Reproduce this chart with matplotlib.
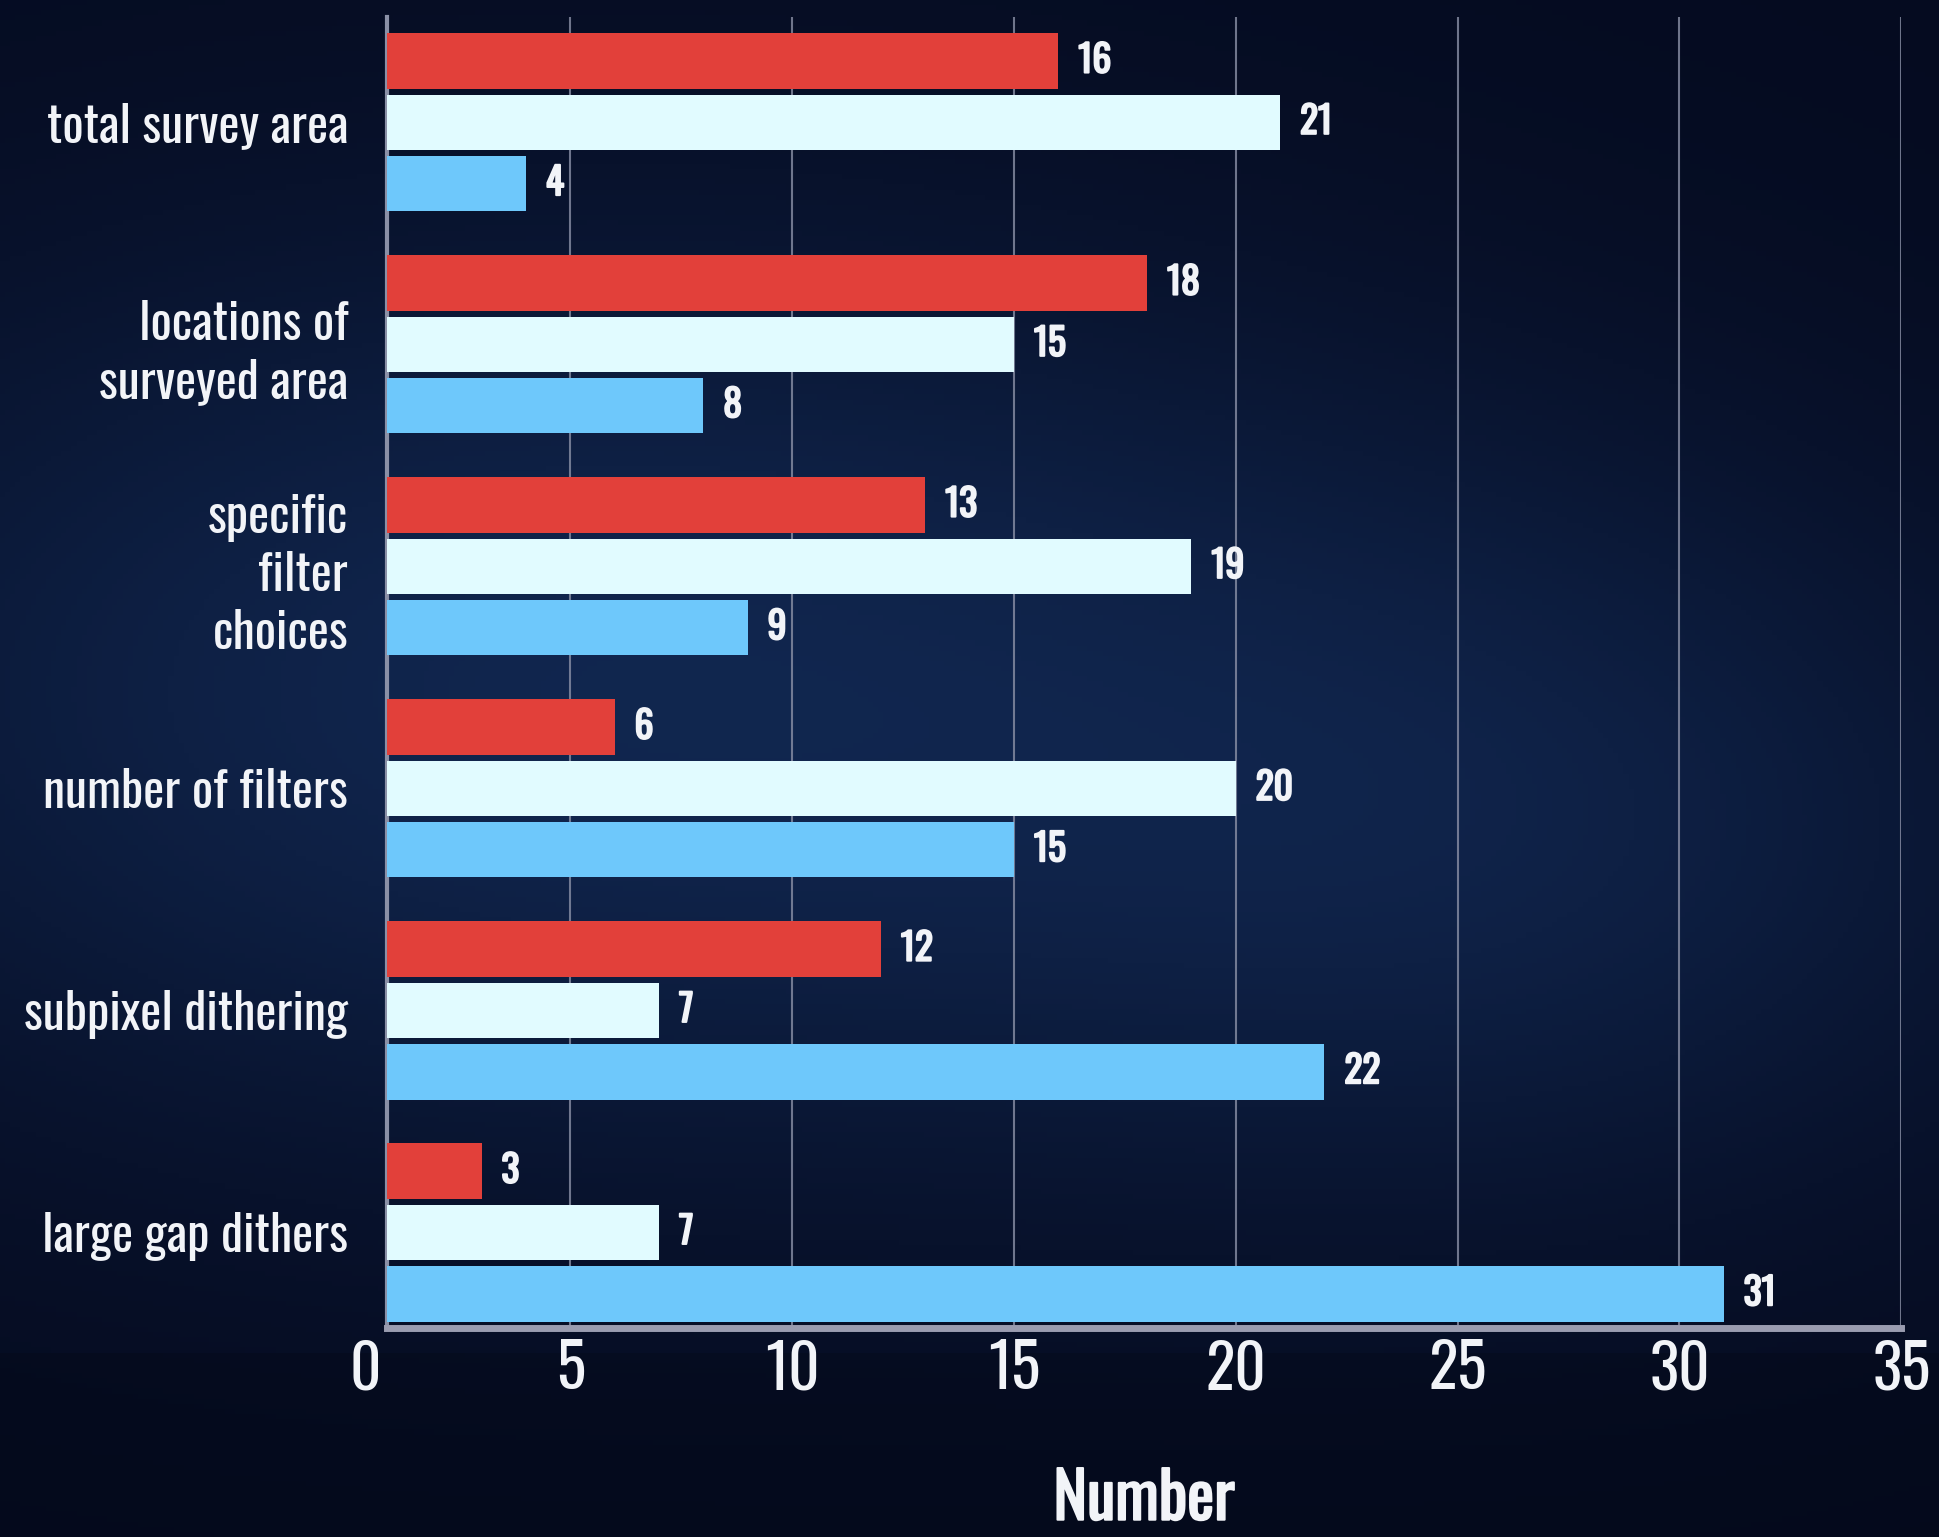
import numpy as np
import matplotlib
matplotlib.use("Agg")
import matplotlib.pyplot as plt
import matplotlib.patheffects as pe

# Data
categories = ["total survey area", "locations of\nsurveyed area", "specific\nfilter\nchoices",
              "number of filters", "subpixel dithering", "large gap dithers"]
red_vals = [16, 18, 13, 6, 12, 3]
white_vals = [21, 15, 19, 20, 7, 7]
blue_vals = [4, 8, 9, 15, 22, 31]
x_ticks = [0, 5, 10, 15, 20, 25, 30, 35]

# Style
RED = "#e2403a"
WHITE = "#e1fbff"
BLUE = "#6ec8fb"
TEXT = "#f2f4f8"
GRID = "#8a90a6"
plt.rcParams["font.family"] = ["Oswald", "DejaVu Sans"]
bold = [pe.withStroke(linewidth=1.4, foreground=TEXT)]

fig = plt.figure(figsize=(19.4, 15.37), dpi=100)
fig.patch.set_facecolor("#050b22")

# Background gradient (dark navy with a soft blue glow)
bg = fig.add_axes([0, 0, 1, 1], zorder=-10)
h, w = 300, 380
yy, xx = np.mgrid[0:1:h * 1j, 0:1:w * 1j]
glow = np.exp(-(((xx - 0.3) / 0.45) ** 2 + ((yy - 0.45) / 0.3) ** 2))
glow2 = np.exp(-(((xx - 0.8) / 0.3) ** 2 + ((yy - 0.55) / 0.25) ** 2))
base = np.array([5, 11, 32]) / 255
lift = np.array([20, 46, 92]) / 255
img = base + (0.75 * glow + 0.45 * glow2)[..., None] * (lift - base)
img[int(h * 0.88):] = img[int(h * 0.88):] * 0.85
bg.imshow(np.clip(img, 0, 1), aspect="auto", extent=[0, 1, 0, 1])
bg.axis("off")

ax = fig.add_axes([0.1995, 0.136, 0.7805, 0.853])
ax.set_facecolor("none")

y = np.arange(len(categories))
slot = 0.276
height = 0.25
ax.barh(y - slot, red_vals, height=height, color=RED, zorder=3)
ax.barh(y, white_vals, height=height, color=WHITE, zorder=3)
ax.barh(y + slot, blue_vals, height=height, color=BLUE, zorder=3)

for vals, off in [(red_vals, -slot), (white_vals, 0), (blue_vals, slot)]:
    for i, v in enumerate(vals):
        ax.text(v + 0.45, i + off, str(v), color=TEXT, fontsize=27,
                va="center", ha="left", zorder=4, path_effects=bold)

# the value axis starts a little past zero at the spine
ax.set_xlim(0.87, 35)
ax.set_ylim(5.43, -0.475)
ax.set_yticks(y)
ax.set_yticklabels(categories, fontsize=36, color=TEXT, linespacing=1.22)
ax.set_xticks(x_ticks[1:])
ax.set_xticklabels([str(t) for t in x_ticks[1:]], fontsize=44, color=TEXT)
ax.annotate(str(x_ticks[0]), xy=(0, 0), xycoords="axes fraction", xytext=(-4, -8),
            textcoords="offset points", ha="right", va="top", fontsize=44, color=TEXT)
ax.tick_params(axis="both", length=0)
ax.tick_params(axis="y", pad=28)
ax.tick_params(axis="x", pad=8)

ax.set_xlabel("Number", fontsize=46, color=TEXT, labelpad=48, path_effects=bold)

ax.grid(axis="x", color=GRID, linewidth=1.5, alpha=0.8, zorder=0)
ax.grid(axis="y", visible=False)
for s in ["top", "right"]:
    ax.spines[s].set_visible(False)
ax.spines["left"].set_color(GRID)
ax.spines["left"].set_linewidth(3)
ax.spines["bottom"].set_color("#9a9cb0")
ax.spines["bottom"].set_linewidth(5)

fig.savefig("out.png", dpi=100, facecolor=fig.get_facecolor())
